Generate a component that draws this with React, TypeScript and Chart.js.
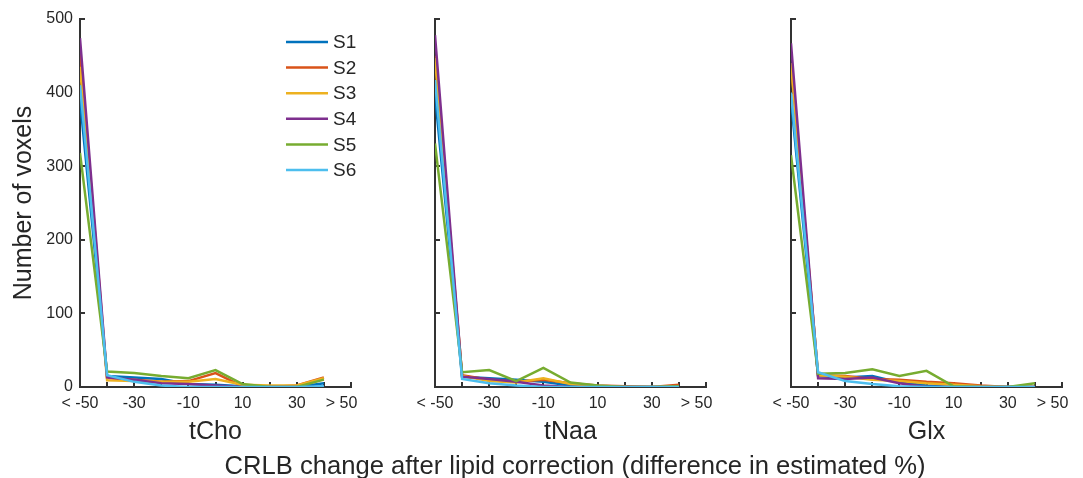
import React, { useEffect, useRef } from "react";
import { Chart, registerables } from "chart.js";

Chart.register(...registerables);

// ---------- data ----------
const binCenters = [-50, -40, -30, -20, -10, 0, 10, 20, 30, 40];
const seriesLabels = ["S1", "S2", "S3", "S4", "S5", "S6"];
const panelTitles = ["tCho", "tNaa", "Glx"];

const tChoValues = [
  [390, 15, 13, 11, 4, 3, 1, 0, 0, 5],
  [454, 12, 10, 7, 8, 19, 1, 0, 2, 13],
  [435, 9, 8, 7, 7, 11, 3, 2, 2, 12],
  [474, 13, 10, 5, 4, 2, 0, 0, 0, 0],
  [318, 21, 19, 15, 12, 23, 4, 0, 0, 10],
  [410, 16, 7, 2, 0, 0, 0, 0, 0, 1],
];
const tNaaValues = [
  [397, 14, 12, 10, 7, 2, 1, 0, 0, 0],
  [450, 16, 10, 7, 10, 5, 2, 1, 0, 3],
  [447, 15, 8, 6, 12, 4, 1, 0, 0, 1],
  [478, 14, 11, 7, 2, 0, 0, 0, 0, 0],
  [331, 20, 23, 8, 26, 6, 2, 0, 0, 1],
  [417, 11, 5, 2, 0, 0, 0, 0, 0, 0],
];
const glxValues = [
  [390, 15, 13, 15, 6, 2, 0, 0, 0, 0],
  [440, 16, 15, 11, 10, 7, 5, 2, 0, 0],
  [440, 16, 14, 10, 8, 5, 3, 1, 0, 0],
  [467, 12, 11, 13, 5, 0, 0, 0, 0, 0],
  [315, 18, 19, 24, 15, 22, 1, 0, 0, 5],
  [400, 20, 8, 4, 1, 0, 0, 0, 0, 0],
];

const xTickValues = [-50, -30, -10, 10, 30, 46.5];
const xTickLabels = ["< -50", "-30", "-10", "10", "30", "> 50"];
const xTickMarks = [-40, -30, -20, -10, 0, 10, 20, 30, 40, 50];
const yTickMarks = [0, 100, 200, 300, 400, 500];

const yTitle = "Number of voxels";
const xTitle = "CRLB change after lipid correction (difference in estimated %)";

// ---------- style ----------
const seriesColors = ["#0072BD", "#D95319", "#EDB120", "#7E2F8E", "#77AC30", "#4DBEEE"];
const TEXT = "#262626";
const AXIS = "#333333";
const FAMILY = '"Liberation Sans", Arial, Helvetica, sans-serif';

const inwardTicks = {
  id: "inwardTicks",
  beforeDatasetsDraw(chart: any) {
    const { ctx, chartArea, scales } = chart;
    const x = scales.x;
    const y = scales.y;
    ctx.save();
    ctx.strokeStyle = AXIS;
    ctx.lineWidth = 2;
    for (const v of xTickMarks) {
      const px = Math.round(x.getPixelForValue(v));
      ctx.beginPath();
      ctx.moveTo(px, chartArea.bottom);
      ctx.lineTo(px, chartArea.bottom - 5);
      ctx.stroke();
    }
    for (const v of yTickMarks) {
      const py = Math.round(y.getPixelForValue(v));
      ctx.beginPath();
      ctx.moveTo(chartArea.left, py);
      ctx.lineTo(chartArea.left + 5, py);
      ctx.stroke();
    }
    ctx.restore();
  },
};

const innerLegend = {
  id: "innerLegend",
  afterDatasetsDraw(chart: any, _args: any, opts: any) {
    if (!opts || !opts.show) return;
    const { ctx } = chart;
    ctx.save();
    ctx.font = `19px ${FAMILY}`;
    ctx.textBaseline = "middle";
    ctx.textAlign = "left";
    chart.data.datasets.forEach((ds: any, i: number) => {
      const yy = opts.top + i * opts.rowH;
      ctx.strokeStyle = ds.borderColor;
      ctx.lineWidth = 2.5;
      ctx.beginPath();
      ctx.moveTo(opts.left, yy);
      ctx.lineTo(opts.left + 42, yy);
      ctx.stroke();
      ctx.fillStyle = TEXT;
      ctx.fillText(ds.label, opts.left + 47, yy + 1);
    });
    ctx.restore();
  },
};

type PanelProps = {
  title: string;
  values: number[][];
  showY: boolean;
  showLegend: boolean;
  left: number;
  yW: number;
};

function Panel({ title, values, showY, showLegend, left, yW }: PanelProps) {
  const ref = useRef<HTMLCanvasElement | null>(null);
  const width = yW + 271 + 20;
  useEffect(() => {
    if (!ref.current) return;
    const chart = new Chart(ref.current, {
      type: "line",
      data: {
        datasets: seriesLabels.map((lab, i) => ({
          label: lab,
          data: binCenters.map((b, j) => ({ x: b, y: values[i][j] })),
          borderColor: seriesColors[i],
          backgroundColor: seriesColors[i],
          borderWidth: 2.5,
          pointRadius: 0,
          tension: 0,
          fill: false,
          order: seriesLabels.length - i,
        })),
      },
      options: {
        responsive: false,
        animation: false,
        events: [],
        layout: { padding: { top: 19, right: 20, bottom: 0, left: 0 } },
        plugins: {
          legend: { display: false },
          tooltip: { enabled: false },
          innerLegend: { show: showLegend, left: 286, top: 42, rowH: 25.6 },
        } as any,
        scales: {
          x: {
            type: "linear",
            min: -50,
            max: 50,
            afterBuildTicks: (scale: any) => {
              scale.ticks = xTickValues.map((v) => ({ value: v }));
            },
            afterFit: (scale: any) => {
              scale.height = 91;
            },
            grid: { display: false, drawTicks: false },
            border: { display: true, color: AXIS, width: 2 },
            ticks: {
              autoSkip: false,
              maxRotation: 0,
              padding: 7,
              color: TEXT,
              font: { family: FAMILY, size: 16 },
              callback: (v: any) => {
                const k = xTickValues.indexOf(Number(v));
                return k >= 0 ? xTickLabels[k] : "";
              },
            },
            title: {
              display: true,
              text: title,
              color: TEXT,
              font: { family: FAMILY, size: 25 },
              padding: { top: 0, bottom: 31 },
            },
          },
          y: {
            type: "linear",
            min: 0,
            max: 500,
            afterFit: (scale: any) => {
              scale.width = yW;
            },
            grid: { display: false, drawTicks: false },
            border: { display: true, color: AXIS, width: 2 },
            ticks: {
              display: showY,
              stepSize: 100,
              padding: 7,
              color: TEXT,
              font: { family: FAMILY, size: 16 },
            },
            title: {
              display: showY,
              text: yTitle,
              color: TEXT,
              font: { family: FAMILY, size: 25 },
              padding: { top: 9, bottom: 0 },
            },
          },
        },
      },
      plugins: [inwardTicks, innerLegend],
    });
    return () => chart.destroy();
  }, []);
  return (
    <canvas
      ref={ref}
      width={width}
      height={478}
      style={{ position: "absolute", left, top: 0, width, height: 478 }}
    />
  );
}

export default function App() {
  const all = [tChoValues, tNaaValues, glxValues];
  return (
    <div style={{ position: "absolute", left: 0, top: 0, width: 1083, height: 478, background: "#fff", overflow: "hidden" }}>
      <Panel title={panelTitles[0]} values={all[0]} showY={true} showLegend={true} left={0} yW={80} />
      <Panel title={panelTitles[1]} values={all[1]} showY={false} showLegend={false} left={405} yW={30} />
      <Panel title={panelTitles[2]} values={all[2]} showY={false} showLegend={false} left={761} yW={30} />
      <div
        style={{
          position: "absolute",
          left: 75,
          width: 1000,
          top: 453,
          textAlign: "center",
          fontFamily: FAMILY,
          fontSize: 25.6,
          lineHeight: "25px",
          color: TEXT,
          whiteSpace: "nowrap",
        }}
      >
        {xTitle}
      </div>
    </div>
  );
}
